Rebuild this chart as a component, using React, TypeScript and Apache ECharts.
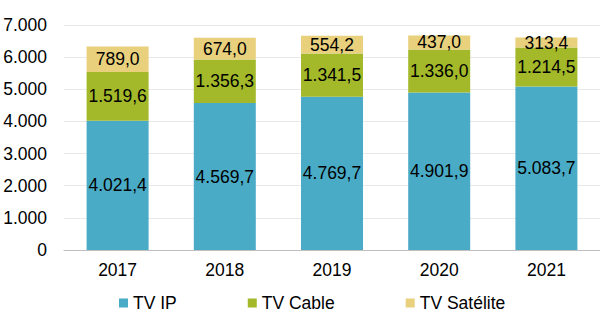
import React, { useEffect, useRef } from "react";
import * as echarts from "echarts";

const categories = ["2017", "2018", "2019", "2020", "2021"];
const tvIP = [4021.4, 4569.7, 4769.7, 4901.9, 5083.7];
const tvCable = [1519.6, 1356.3, 1341.5, 1336.0, 1214.5];
const tvSat = [789.0, 674.0, 554.2, 437.0, 313.4];
const seriesNames = ["TV IP", "TV Cable", "TV Satélite"];
const colors = ["#4aabc6", "#a3b92a", "#e8d07c"];

function fmtThousands(n: number): string {
  const s = Math.round(n).toString();
  return s.replace(/\B(?=(\d{3})+(?!\d))/g, ".");
}
function fmtDec(n: number): string {
  const fixed = n.toFixed(1);
  const [i, d] = fixed.split(".");
  return fmtThousands(Number(i)) + "," + d;
}

export default function App() {
  const ref = useRef<HTMLDivElement>(null);
  useEffect(() => {
    if (!ref.current) return;
    const chart = echarts.init(ref.current, null, { renderer: "svg" });
    const font = "Liberation Sans, Arial, sans-serif";
    const fs = 17.5;
    const mk = (name: string, data: number[], color: string) => ({
      name,
      type: "bar",
      stack: "total",
      data,
      barWidth: 62,
      itemStyle: { color },
      label: {
        show: true,
        position: "inside",
        color: "#000",
        fontSize: fs,
        fontFamily: font,
        formatter: (p: any) => fmtDec(p.value),
      },
    });
    chart.setOption({
      animation: false,
      grid: { left: 64, right: 0, top: 25, bottom: 75, containLabel: false },
      legend: {
        left: 114,
        top: 289,
        itemWidth: 9,
        itemHeight: 9,
        itemGap: 71,
        icon: "rect",
        textStyle: { fontSize: fs, fontFamily: font, color: "#000" },
        data: seriesNames,
      },
      xAxis: {
        type: "category",
        data: categories,
        axisTick: { show: false },
        axisLine: { lineStyle: { color: "#bfbfbf", width: 1 } },
        axisLabel: { fontSize: fs, fontFamily: font, color: "#000", margin: 11 },
      },
      yAxis: {
        type: "value",
        min: 0,
        max: 7000,
        interval: 1000,
        axisLine: { show: false },
        axisTick: { show: false },
        splitLine: { lineStyle: { color: "#e8e8e8" } },
        axisLabel: {
          fontSize: fs,
          fontFamily: font,
          color: "#000",
          margin: 17,
          formatter: (v: number) => fmtThousands(v),
        },
      },
      series: [
        mk(seriesNames[0], tvIP, colors[0]),
        mk(seriesNames[1], tvCable, colors[1]),
        mk(seriesNames[2], tvSat, colors[2]),
      ],
    });
    return () => chart.dispose();
  }, []);
  return <div ref={ref} style={{ width: 600, height: 325, position: "absolute", left: 0, top: 0 }} />;
}
